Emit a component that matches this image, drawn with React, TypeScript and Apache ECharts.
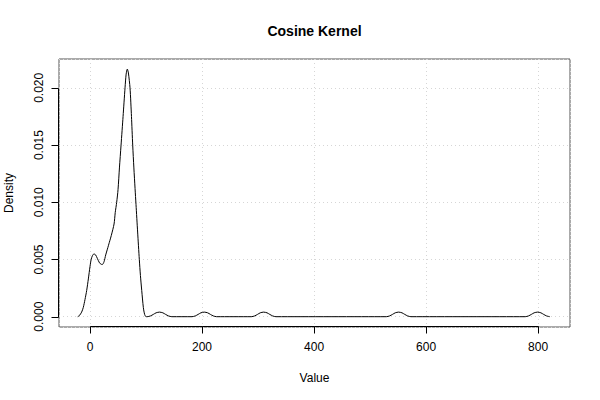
import React, { useEffect, useRef } from "react";
import * as echarts from "echarts";

// Density curve: [value, density]
const mainPeak: number[][] = [
  [-22, 0], [-19, 0.0001], [-15, 0.0004], [-12, 0.00081], [-9, 0.0015],
  [-6, 0.00228], [-3, 0.0033], [0, 0.0044], [2, 0.0050], [4, 0.0053],
  [7, 0.00549], [10, 0.0054], [13, 0.0051], [17, 0.0047], [20, 0.00458],
  [22, 0.00456], [25, 0.0048], [28, 0.0054], [31, 0.0059], [34.5, 0.0065],
  [38, 0.0071], [42.9, 0.0081], [45, 0.0091], [47.6, 0.0100], [50, 0.0111],
  [52.5, 0.0130], [55.4, 0.0150], [59, 0.0175], [62.5, 0.0200], [64.5, 0.0212],
  [66.6, 0.02164], [68.5, 0.0213], [71.4, 0.0200], [74, 0.0175], [76.2, 0.0150],
  [78.3, 0.0130], [80.4, 0.0112], [82.1, 0.0098], [85, 0.0074], [88, 0.0050],
  [90, 0.0036], [92.3, 0.0023], [95.2, 0.0008], [97.5, 0.0002], [100, 0],
];
const bump1: number[][] = [
  [102, 0], [108, 0.00007], [113, 0.0002], [118, 0.00034], [124, 0.0004],
  [130, 0.00034], [135, 0.0002], [140, 0.00007], [146, 0],
];
const bump2: number[][] = [
  [182, 0], [188, 0.00007], [193, 0.0002], [198, 0.00034], [204, 0.0004],
  [210, 0.00034], [215, 0.0002], [220, 0.00007], [226, 0],
];
const bump3: number[][] = [
  [288, 0], [294, 0.00007], [299, 0.0002], [304, 0.00034], [310, 0.0004],
  [316, 0.00034], [321, 0.0002], [326, 0.00007], [332, 0],
];
const bump4: number[][] = [
  [529, 0], [535, 0.00007], [540, 0.0002], [545, 0.00034], [551, 0.0004],
  [557, 0.00034], [562, 0.0002], [567, 0.00007], [573, 0],
];
const bump5: number[][] = [
  [777, 0], [783, 0.00007], [788, 0.0002], [793, 0.00034], [799, 0.0004],
  [805, 0.00034], [810, 0.0002], [815, 0.00007], [821, 0],
];

const xTicks = [0, 200, 400, 600, 800];
const yTicks = [0, 0.005, 0.01, 0.015, 0.02];

const X_MIN = -55.4;
const X_MAX = 857;
const Y_MIN = -0.0009;
const Y_MAX = 0.02252;

const FONT = "'Liberation Sans', Arial, Helvetica, sans-serif";
const TICK_LEN = 7;

const crisp = (v: number) => Math.round(v) + 0.5;

export default function App() {
  const ref = useRef<HTMLDivElement>(null);

  useEffect(() => {
    document.body.style.margin = "0";
    if (!ref.current) return;
    const chart = echarts.init(ref.current, undefined, { renderer: "svg" });
    const data = [...mainPeak, ...bump1, ...bump2, ...bump3, ...bump4, ...bump5];

    const axisStyle = { stroke: "#000", lineWidth: 1 };

    chart.setOption({
      animation: false,
      backgroundColor: "#ffffff",
      grid: {
        left: 59,
        right: 30,
        top: 59,
        bottom: 73,
        containLabel: false,
        outerBoundsMode: "none",
        show: true,
        borderColor: "#555555",
        borderWidth: 1,
        backgroundColor: "transparent",
      },
      graphic: [
        {
          type: "text",
          x: 314.5,
          y: 31,
          style: {
            text: "Cosine Kernel",
            fill: "#000",
            font: `bold 14px ${FONT}`,
            textAlign: "center",
            textVerticalAlign: "middle",
          },
        },
      ],
      xAxis: {
        type: "value",
        min: X_MIN,
        max: X_MAX,
        axisLine: { show: false, onZero: false },
        axisTick: { show: false },
        axisLabel: {
          customValues: xTicks,
          margin: 14,
          color: "#000",
          fontSize: 12,
          fontFamily: FONT,
          formatter: (v: number) => String(v),
        },
        splitLine: {
          show: true,
          lineStyle: { color: "#d6d6d6", type: [1, 3], width: 1 },
        },
        name: "Value",
        nameLocation: "middle",
        nameGap: 45,
        nameTextStyle: { color: "#000", fontSize: 12, fontFamily: FONT },
      },
      yAxis: {
        type: "value",
        min: Y_MIN,
        max: Y_MAX,
        axisLine: { show: false, onZero: false },
        axisTick: { show: false },
        axisLabel: {
          customValues: yTicks,
          rotate: 90,
          margin: 14,
          color: "#000",
          fontSize: 12,
          fontFamily: FONT,
          formatter: (v: number) => v.toFixed(3),
        },
        splitLine: {
          show: true,
          lineStyle: { color: "#d6d6d6", type: [1, 3], width: 1 },
        },
        name: "Density",
        nameLocation: "middle",
        nameGap: 44,
        nameTextStyle: { color: "#000", fontSize: 12, fontFamily: FONT },
      },
      series: [
        {
          type: "line",
          data,
          showSymbol: false,
          symbol: "none",
          smooth: 0.25,
          clip: false,
          lineStyle: { color: "#000", width: 1 },
          silent: true,
          z: 3,
        },
        {
          // R-style x axis: line from first to last tick, ticks pointing down
          type: "custom",
          silent: true,
          clip: false,
          z: 5,
          data: xTicks.map((v) => [v]),
          encode: { x: 0 },
          renderItem: (params: any, api: any) => {
            const i = params.dataIndex;
            const p = api.coord([xTicks[i], Y_MIN]);
            const x = crisp(p[0]);
            const y = crisp(p[1]) - 1;
            const children: any[] = [
              { type: "line", shape: { x1: x, y1: y, x2: x, y2: y + TICK_LEN }, style: axisStyle },
            ];
            if (i > 0) {
              const q = api.coord([xTicks[i - 1], Y_MIN]);
              children.push({
                type: "line",
                shape: { x1: crisp(q[0]), y1: y, x2: x, y2: y },
                style: axisStyle,
              });
            }
            return { type: "group", children };
          },
        },
        {
          // R-style y axis: line from first to last tick, ticks pointing left
          type: "custom",
          silent: true,
          clip: false,
          z: 5,
          data: yTicks.map((v) => [v]),
          encode: { y: 0 },
          renderItem: (params: any, api: any) => {
            const i = params.dataIndex;
            const p = api.coord([X_MIN, yTicks[i]]);
            const x = crisp(p[0]) - 1;
            const y = crisp(p[1]);
            const children: any[] = [
              { type: "line", shape: { x1: x, y1: y, x2: x - TICK_LEN, y2: y }, style: axisStyle },
            ];
            if (i > 0) {
              const q = api.coord([X_MIN, yTicks[i - 1]]);
              children.push({
                type: "line",
                shape: { x1: x, y1: crisp(q[1]), x2: x, y2: y },
                style: axisStyle,
              });
            }
            return { type: "group", children };
          },
        },
      ],
    });

    return () => chart.dispose();
  }, []);

  return (
    <div
      ref={ref}
      style={{ position: "fixed", left: 0, top: 0, width: 600, height: 400 }}
    />
  );
}
